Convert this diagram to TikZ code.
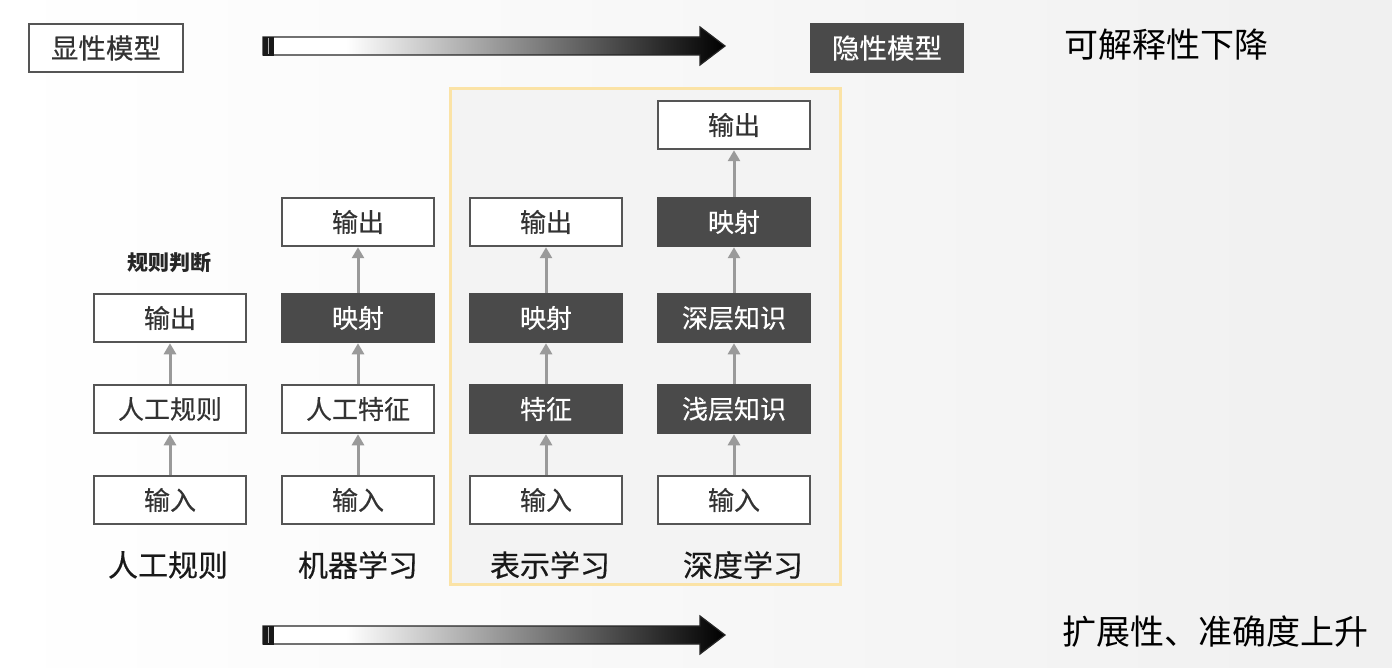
\documentclass[tikz,border=0pt]{standalone}
\usepackage{fontspec}
\newfontfamily\cjk{Noto Sans CJK SC}
\newfontfamily\cjkm[FakeBold=0.4]{Noto Sans CJK SC}
\usetikzlibrary{arrows.meta}
\pgfdeclarehorizontalshading{barshade}{100bp}{color(0bp)=(white); color(34bp)=(white); color(75bp)=(black); color(100bp)=(black)}
\definecolor{boxline}{HTML}{555555}
\definecolor{darkfill}{HTML}{4A4A4A}
\definecolor{txt}{HTML}{333333}
\definecolor{arr}{HTML}{9A9A9A}
\definecolor{panelline}{HTML}{FBE3A6}
\definecolor{panelfill}{HTML}{F3F3F3}
\begin{document}
\begin{tikzpicture}[x=1pt,y=-1pt,
  lbox/.style={draw=boxline, line width=2.5pt, fill=white, minimum width=152pt, minimum height=48pt, inner sep=0pt, text=txt, font=\cjkm\fontsize{26}{30}\selectfont},
  dbox/.style={lbox, fill=darkfill, draw=darkfill, text=white},
  up/.style={draw=arr, line width=3pt, -{Triangle[width=12pt,length=11pt]}},
  collabel/.style={text=black!90, inner sep=0pt, font=\cjkm\fontsize{30}{34}\selectfont},
  sidelabel/.style={text=black, inner sep=0pt, font=\cjk\fontsize{34}{38}\selectfont},
  bararrow/.style={draw=black!85, line width=1.2pt, shading=barshade},
  barcap/.style={fill=black!90, draw=black!90, line width=0.8pt}
]
\useasboundingbox (0,0) rectangle (1392,668);
\shade[left color=white, right color=black!6] (0,0) rectangle (1392,668);

% panel
\draw[draw=panelline, line width=3pt, fill=panelfill] (450,89) rectangle (840,584);

% top row
\node[lbox, minimum width=154pt, font=\cjkm\fontsize{27.5}{31}\selectfont] (explicit) at (106,48) {显性模型};
\node[dbox, font=\cjkm\fontsize{27.5}{31}\selectfont] (implicit) at (887,48) {隐性模型};
\node[sidelabel] (interp) at (1166,45) {可解释性下降};
\node[sidelabel] (scal) at (1215,632) {扩展性、准确度上升};

% gradient arrows
\shadedraw[bararrow] (263,37) -- (700,37) -- (700,27) -- (725,46) -- (700,65) -- (700,55) -- (263,55) -- cycle;
\draw[barcap] (263,37) rectangle (273,55);
\draw[gray!60, line width=1pt] (268,38) -- (268,54);
\shadedraw[bararrow] (263,626) -- (700,626) -- (700,616) -- (725,635) -- (700,654) -- (700,644) -- (263,644) -- cycle;
\draw[barcap] (263,626) rectangle (273,644);
\draw[gray!60, line width=1pt] (268,627) -- (268,643);

% column 1
\node[lbox] (a1) at (170,500) {输入};
\node[lbox] (a2) at (170,409) {人工规则};
\node[lbox] (a3) at (170,318) {输出};
\node[inner sep=0pt, text=black!85, font=\cjk\bfseries\fontsize{21}{24}\selectfont] (rule) at (169,263) {规则判断};
\node[collabel] (la) at (168,565) {人工规则};
\draw[up] (a1) -- (a2);
\draw[up] (a2) -- (a3);

% column 2
\node[lbox] (b1) at (358,500) {输入};
\node[lbox] (b2) at (358,409) {人工特征};
\node[dbox] (b3) at (358,318) {映射};
\node[lbox] (b4) at (358,222) {输出};
\node[collabel] (lb) at (358,565) {机器学习};
\draw[up] (b1) -- (b2);
\draw[up] (b2) -- (b3);
\draw[up] (b3) -- (b4);

% column 3
\node[lbox] (c1) at (546,500) {输入};
\node[dbox] (c2) at (546,409) {特征};
\node[dbox] (c3) at (546,318) {映射};
\node[lbox] (c4) at (546,222) {输出};
\node[collabel] (lc) at (550,565) {表示学习};
\draw[up] (c1) -- (c2);
\draw[up] (c2) -- (c3);
\draw[up] (c3) -- (c4);

% column 4
\node[lbox] (d1) at (734,500) {输入};
\node[dbox] (d2) at (734,409) {浅层知识};
\node[dbox] (d3) at (734,318) {深层知识};
\node[dbox] (d4) at (734,222) {映射};
\node[lbox] (d5) at (734,125) {输出};
\node[collabel] (ld) at (743,565) {深度学习};
\draw[up] (d1) -- (d2);
\draw[up] (d2) -- (d3);
\draw[up] (d3) -- (d4);
\draw[up] (d4) -- (d5);
\end{tikzpicture}
\end{document}
